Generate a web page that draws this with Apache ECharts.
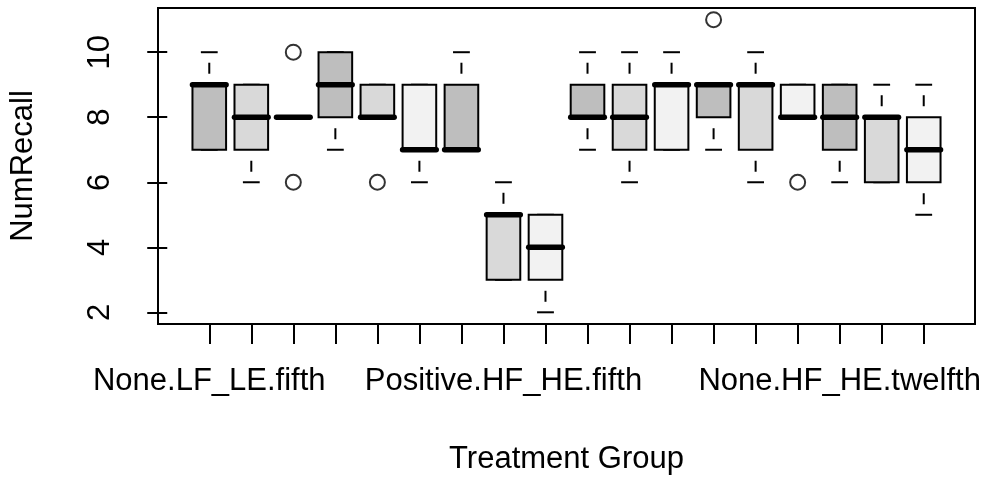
<!DOCTYPE html>
<html>
<head>
<meta charset="utf-8">
<script src="https://cdn.jsdelivr.net/npm/echarts@6/dist/echarts.min.js"></script>
<style>
  html, body { margin: 0; padding: 0; background: #fff; }
  #chart { width: 986px; height: 480px; }
</style>
</head>
<body>
<div id="chart"></div>
<script>
// box statistics per treatment group (1..18)
const groupPos      = [1, 2, 3, 4, 5, 6, 7, 8, 9, 10, 11, 12, 13, 14, 15, 16, 17, 18];
const lowerWhisker  = [7, 6, 8, 7, 8, 6, 7, 3, 2, 7, 6, 7, 7, 6, 8, 6, 6, 5];
const lowerQuartile = [7, 7, 8, 8, 8, 7, 7, 3, 3, 8, 7, 7, 8, 7, 8, 7, 6, 6];
const medians       = [9, 8, 8, 9, 8, 7, 7, 5, 4, 8, 8, 9, 9, 9, 8, 8, 8, 7];
const upperQuartile = [9, 9, 8, 10, 9, 9, 9, 5, 5, 9, 9, 9, 9, 9, 9, 9, 8, 8];
const upperWhisker  = [10, 9, 8, 10, 9, 9, 10, 6, 5, 10, 10, 10, 9, 10, 9, 9, 9, 9];
// outliers: [group, value]
const outliers = [[3, 10], [3, 6], [5, 6], [13, 11], [15, 6]];

// only these groups get a label on the x axis (the rest overlap in R)
const labelPos  = [1, 8, 16];
const labelText = ['None.LF_LE.fifth', 'Positive.HF_HE.fifth', 'None.HF_HE.twelfth'];
const yTicks = [2, 4, 6, 8, 10];

const fills = ['#bebebe', '#d9d9d9', '#f2f2f2'];
const FONT = 'Liberation Sans, Arial, sans-serif';

const boxData = groupPos.map(function (g, i) {
  return [g, lowerWhisker[i], lowerQuartile[i], medians[i], upperQuartile[i], upperWhisker[i]];
});

const chart = echarts.init(document.getElementById('chart'));

function renderBox(params, api) {
  const x = api.value(0);
  const half = api.size([0.8, 0])[0] / 2;
  const lo = api.coord([x, api.value(1)]);
  const q1 = api.coord([x, api.value(2)]);
  const md = api.coord([x, api.value(3)]);
  const q3 = api.coord([x, api.value(4)]);
  const hi = api.coord([x, api.value(5)]);
  const cx = lo[0];
  const kids = [];
  const dash = { stroke: '#000', lineWidth: 2, lineDash: [11, 11], lineDashOffset: 11 };
  const solid = { stroke: '#000', lineWidth: 2 };

  if (Math.abs(q3[1] - hi[1]) > 0.5) {
    kids.push({ type: 'line', shape: { x1: cx, y1: q3[1], x2: cx, y2: hi[1] }, style: dash });
  }
  if (Math.abs(q1[1] - lo[1]) > 0.5) {
    kids.push({ type: 'line', shape: { x1: cx, y1: q1[1], x2: cx, y2: lo[1] }, style: dash });
  }
  // staples
  kids.push({ type: 'line', shape: { x1: cx - half / 2, y1: hi[1], x2: cx + half / 2, y2: hi[1] }, style: solid });
  kids.push({ type: 'line', shape: { x1: cx - half / 2, y1: lo[1], x2: cx + half / 2, y2: lo[1] }, style: solid });
  // box
  kids.push({
    type: 'rect',
    shape: { x: cx - half, y: q3[1], width: half * 2, height: q1[1] - q3[1] },
    style: { fill: fills[params.dataIndex % 3], stroke: '#000', lineWidth: 2 }
  });
  // median
  kids.push({
    type: 'line',
    shape: { x1: cx - half, y1: md[1], x2: cx + half, y2: md[1] },
    style: { stroke: '#000', lineWidth: 5.5, lineCap: 'round' }
  });
  return { type: 'group', children: kids };
}

const option = {
  animation: false,
  backgroundColor: '#fff',
  grid: {
    left: 157, right: 11, top: 8, bottom: 153,
    show: true, borderColor: '#000', borderWidth: 2
  },
  xAxis: {
    type: 'value',
    min: -0.22, max: 19.22,
    name: 'Treatment Group',
    nameLocation: 'middle',
    nameGap: 120,
    nameTextStyle: { fontFamily: FONT, fontSize: 31, color: '#000' },
    axisLine: { show: false },
    splitLine: { show: false },
    axisTick: { show: true, length: 20, customValues: groupPos, lineStyle: { color: '#000', width: 2 } },
    axisLabel: {
      customValues: labelPos,
      margin: 42,
      fontFamily: FONT, fontSize: 31, color: '#000',
      formatter: function (v) {
        const k = labelPos.indexOf(Math.round(v));
        return k >= 0 ? labelText[k] : '';
      }
    }
  },
  yAxis: {
    type: 'value',
    min: 1.64, max: 11.36,
    name: 'NumRecall',
    nameLocation: 'middle',
    nameGap: 119,
    nameRotate: 90,
    nameTextStyle: { fontFamily: FONT, fontSize: 31, color: '#000' },
    axisLine: { show: false },
    splitLine: { show: false },
    axisTick: { show: true, length: 20, customValues: yTicks, lineStyle: { color: '#000', width: 2 } },
    axisLabel: {
      customValues: yTicks,
      rotate: 90,
      margin: 42,
      fontFamily: FONT, fontSize: 31, color: '#000'
    }
  },
  series: [
    {
      type: 'custom',
      renderItem: renderBox,
      encode: { x: 0, y: [1, 2, 3, 4, 5] },
      data: boxData,
      z: 2
    },
    {
      type: 'scatter',
      data: outliers,
      symbol: 'circle',
      symbolSize: 15,
      itemStyle: { color: 'rgba(0,0,0,0)', borderColor: '#000', borderWidth: 2 },
      z: 3
    }
  ]
};

chart.setOption(option);
</script>
</body>
</html>
